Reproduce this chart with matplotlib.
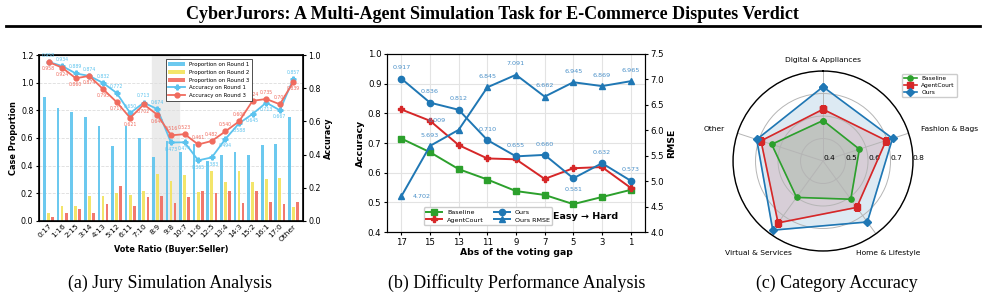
import numpy as np
import matplotlib
matplotlib.use("Agg")
from matplotlib import pyplot as plt

plt.rcParams['font.family'] = ['DejaVu Sans']
serif = ['Liberation Serif', 'DejaVu Serif']

# (a) jury simulation
ratios = ["0:17", "1:16", "2:15", "3:14", "4:13", "5:12", "6:11", "7:10", "8:9", "9:8",
          "10:7", "11:6", "12:5", "13:4", "14:3", "15:2", "16:1", "17:0", "Other"]
prop_r1 = [0.90, 0.82, 0.79, 0.75, 0.69, 0.54, 0.69, 0.60, 0.46, 0.58,
           0.50, 0.56, 0.43, 0.48, 0.50, 0.48, 0.55, 0.56, 0.75]
prop_r2 = [0.06, 0.11, 0.11, 0.18, 0.18, 0.20, 0.19, 0.22, 0.34, 0.29,
           0.33, 0.21, 0.36, 0.28, 0.36, 0.28, 0.30, 0.31, 0.10]
prop_r3 = [0.03, 0.06, 0.09, 0.06, 0.12, 0.25, 0.11, 0.17, 0.18, 0.13,
           0.17, 0.22, 0.20, 0.22, 0.13, 0.22, 0.14, 0.12, 0.14]
acc_r1 = [0.958, 0.934, 0.889, 0.874, 0.832, 0.772, 0.650, 0.713, 0.674, 0.473,
          0.474, 0.365, 0.383, 0.494, 0.588, 0.645, 0.713, 0.667, 0.857]
acc_r3 = [0.958, 0.924, 0.860, 0.874, 0.795, 0.717, 0.621, 0.702, 0.640, 0.516,
          0.523, 0.461, 0.482, 0.540, 0.600, 0.724, 0.735, 0.703, 0.839]

# (b) difficulty
gap = [17, 15, 13, 11, 9, 7, 5, 3, 1]
acc_base = [0.715, 0.669, 0.612, 0.577, 0.538, 0.525, 0.494, 0.518, 0.542]
acc_court = [0.813, 0.775, 0.693, 0.648, 0.645, 0.579, 0.615, 0.619, 0.549]
acc_ours = [0.917, 0.836, 0.812, 0.710, 0.655, 0.660, 0.581, 0.632, 0.573]
rmse_ours = [4.702, 5.693, 6.009, 6.845, 7.091, 6.662, 6.945, 6.869, 6.965]

# (c) category accuracy
cats = ["Digital & Appliances", "Fashion & Bags", "Home & Lifestyle", "Virtual & Services", "Other"]
cat_base = [0.58, 0.57, 0.61, 0.60, 0.64]
cat_court = [0.63, 0.695, 0.655, 0.74, 0.69]
cat_ours = [0.73, 0.725, 0.735, 0.78, 0.71]

fig = plt.figure(figsize=(9.85, 2.99), dpi=100)
fig.text(0.5, 0.952, "CyberJurors: A Multi-Agent Simulation Task for E-Commerce Disputes Verdict",
         ha='center', va='center', fontsize=13, fontweight='bold', family=serif)
fig.add_artist(plt.Line2D([0.006, 0.995], [0.912, 0.912], color='black', lw=2))

# ---- (a)
c_blue = '#5cc3ee'
c_yel = '#f2e35a'
c_red = '#f06b5e'
ax = fig.add_axes([0.0396, 0.261, 0.268, 0.555])
x = np.arange(len(ratios))
ax.axvspan(7.6, 9.6, color='#ebebeb', zorder=0)
ax.bar(x - 0.3, prop_r1, 0.2, color=c_blue, alpha=0.9, label='Proportion on Round 1', zorder=2)
ax.bar(x, prop_r2, 0.2, color=c_yel, alpha=0.9, label='Proportion on Round 2', zorder=2)
ax.bar(x + 0.3, prop_r3, 0.2, color=c_red, alpha=0.9, label='Proportion on Round 3', zorder=2)
ax.set_ylim(0, 1.2)
ax.set_xlim(-0.7, len(ratios) - 0.3)
ax.set_yticks(np.arange(0, 1.21, 0.2))
ax.set_xticks(x)
ax.set_xticklabels(ratios, rotation=45, ha='right', rotation_mode='anchor', fontsize=5.4)
ax.tick_params(axis='y', labelsize=5.7, length=2.5, pad=1.5)
ax.tick_params(axis='x', length=0, pad=1.5)
ax.yaxis.grid(True, linestyle='--', color='#dddddd', lw=0.6, zorder=0)
ax.set_axisbelow(True)
ax.set_ylabel("Case Proportion", fontsize=5.9, fontweight='bold', labelpad=2)
ax.set_xlabel("Vote Ratio (Buyer:Seller)", fontsize=5.9, fontweight='bold', labelpad=2)
for s in ax.spines.values():
    s.set_linewidth(1.2)

ax2 = ax.twinx()
ax2.plot(x, acc_r1, color=c_blue, marker='P', ms=3.5, lw=1.3, label='Accuracy on Round 1', zorder=4)
ax2.plot(x, acc_r3, color=c_red, marker='o', ms=3.5, lw=1.3, label='Accuracy on Round 3', zorder=5)
ax2.set_ylim(0, 1.0)
ax2.set_yticks(np.arange(0, 1.01, 0.2))
ax2.tick_params(axis='y', labelsize=5.7, length=2.5, pad=1.5)
ax2.set_ylabel("Accuracy", fontsize=5.9, fontweight='bold', labelpad=2)
for i in x:
    a1, a3 = acc_r1[i], acc_r3[i]
    up1 = a1 >= a3
    ax2.annotate(f"{a1:.3f}", (i, a1), xytext=(0, 3 if up1 else -3), textcoords='offset points',
                 ha='center', va='bottom' if up1 else 'top', fontsize=3.3, color=c_blue)
    ax2.annotate(f"{a3:.3f}", (i, a3), xytext=(0, -3 if up1 else 3), textcoords='offset points',
                 ha='center', va='top' if up1 else 'bottom', fontsize=3.3, color=c_red)
h1, l1 = ax.get_legend_handles_labels()
h2, l2 = ax2.get_legend_handles_labels()
leg = ax2.legend(h1 + h2, l1 + l2, loc='upper left', bbox_to_anchor=(0.47, 0.99), fontsize=3.9,
                 frameon=True, fancybox=False, edgecolor='#333333', framealpha=1, borderpad=0.5,
                 handlelength=3.0, labelspacing=0.5)
leg.get_frame().set_linewidth(0.6)

# ---- (b)
bx = fig.add_axes([0.3929, 0.224, 0.2619, 0.5954])
ann_c = '#4a90c8'
bx.plot(gap, acc_base, color='#2ca02c', marker='s', ms=4.5, lw=1.4, label='Baseline')
bx.plot(gap, acc_court, color='#d62728', marker='P', ms=4.5, lw=1.4, label='AgentCourt')
bx.plot(gap, acc_ours, color='#1f77b4', marker='o', ms=4.5, lw=1.4, label='Ours')
bx.set_xlim(18, 0)
bx.set_ylim(0.4, 1.0)
bx.set_xticks(gap)
bx.grid(True, color='#e3e3e3', lw=0.8)
bx.tick_params(labelsize=6.2, length=2.5, pad=1.5)
bx.set_ylabel("Accuracy", fontsize=6.7, fontweight='bold', labelpad=2)
bx.set_xlabel("Abs of the voting gap", fontsize=6.7, fontweight='bold', labelpad=1)
for g, v in zip(gap, acc_ours):
    below = v == 0.581
    bx.annotate(f"{v:.3f}", (g, v), xytext=(0, -6 if below else 6), textcoords='offset points',
                ha='center', va='top' if below else 'bottom', fontsize=4.6, color=ann_c)
bx2 = bx.twinx()
bx2.plot(gap, rmse_ours, color='#1f77b4', marker='^', ms=4.5, lw=1.4, label='Ours RMSE')
bx2.set_ylim(4.0, 7.5)
bx2.set_yticks(np.arange(4.0, 7.51, 0.5))
bx2.tick_params(labelsize=6.2, length=2.5, pad=1.5)
bx2.set_ylabel("RMSE", fontsize=6.7, fontweight='bold', labelpad=2)
for g, v in zip(gap, rmse_ours):
    if g == 17:
        off, ha, va = (8, 0), 'left', 'center'
    elif g == 13:
        off, ha, va = (-16, 5), 'center', 'bottom'
    else:
        off, ha, va = (0, 6), 'center', 'bottom'
    bx2.annotate(f"{v:.3f}", (g, v), xytext=off, textcoords='offset points',
                 ha=ha, va=va, fontsize=4.6, color=ann_c)
hb1, lb1 = bx.get_legend_handles_labels()
hb2, lb2 = bx2.get_legend_handles_labels()
bx2.legend(hb1 + hb2, lb1 + lb2, ncol=2, loc='lower left', bbox_to_anchor=(0.13, 0.02),
           fontsize=4.6, framealpha=1, edgecolor='#cccccc', handlelength=2.5, columnspacing=1.5,
           labelspacing=0.3, borderpad=0.4)
bx.text(0.77, 0.09, "Easy \u2192 Hard", transform=bx.transAxes, ha='center', va='center',
        fontsize=6.8, fontweight='bold')

# ---- (c)
cx = fig.add_axes([0.7442, 0.1605, 0.1827, 0.602], projection='polar')
theta = np.linspace(0, 2 * np.pi, len(cats), endpoint=False)
cx.set_theta_offset(np.pi / 2)
cx.set_theta_direction(-1)
for vals, col, mk, name in [(cat_base, '#2ca02c', 'o', 'Baseline'),
                            (cat_court, '#d62728', 's', 'AgentCourt'),
                            (cat_ours, '#1f77b4', 'D', 'Ours')]:
    t = np.append(theta, theta[0])
    v = np.append(vals, vals[0])
    cx.plot(t, v, color=col, marker=mk, ms=3.8, lw=1.2, label=name)
    cx.fill(t, v, color=col, alpha=0.15)
cx.set_ylim(0.4, 0.8)
cx.set_yticks([0.4, 0.5, 0.6, 0.7, 0.8])
cx.set_yticklabels(["0.4", "0.5", "0.6", "0.7", "0.8"], fontsize=5.4)
cx.set_rlabel_position(90)
cx.set_xticks(theta)
cx.set_xticklabels([])
for t, name in zip(theta, cats):
    sx = np.sin(t)
    sy = np.cos(t)
    if sy > 0.9:
        ha, va, r = 'center', 'bottom', 0.835
    elif sy > 0:
        ha, va, r = ('left' if sx > 0 else 'right'), 'center', 0.86
    else:
        ha, va, r = 'center', 'top', 0.89
    cx.text(t, r, name, ha=ha, va=va, fontsize=5.4, clip_on=False)
cx.grid(True, color='#b5b5b5', lw=0.7)
cx.spines['polar'].set_linewidth(1.0)
cx.legend(loc='upper left', bbox_to_anchor=(0.92, 1.0), fontsize=4.2, framealpha=1,
          edgecolor='#cccccc', handlelength=2.2, labelspacing=0.3, borderpad=0.4)

fig.text(0.173, 0.053, "(a) Jury Simulation Analysis", ha='center', va='center', fontsize=12.9, family=serif)
fig.text(0.525, 0.053, "(b) Difficulty Performance Analysis", ha='center', va='center', fontsize=12.9, family=serif)
fig.text(0.85, 0.053, "(c) Category Accuracy", ha='center', va='center', fontsize=12.9, family=serif)

fig.savefig("out.png", dpi=100)
